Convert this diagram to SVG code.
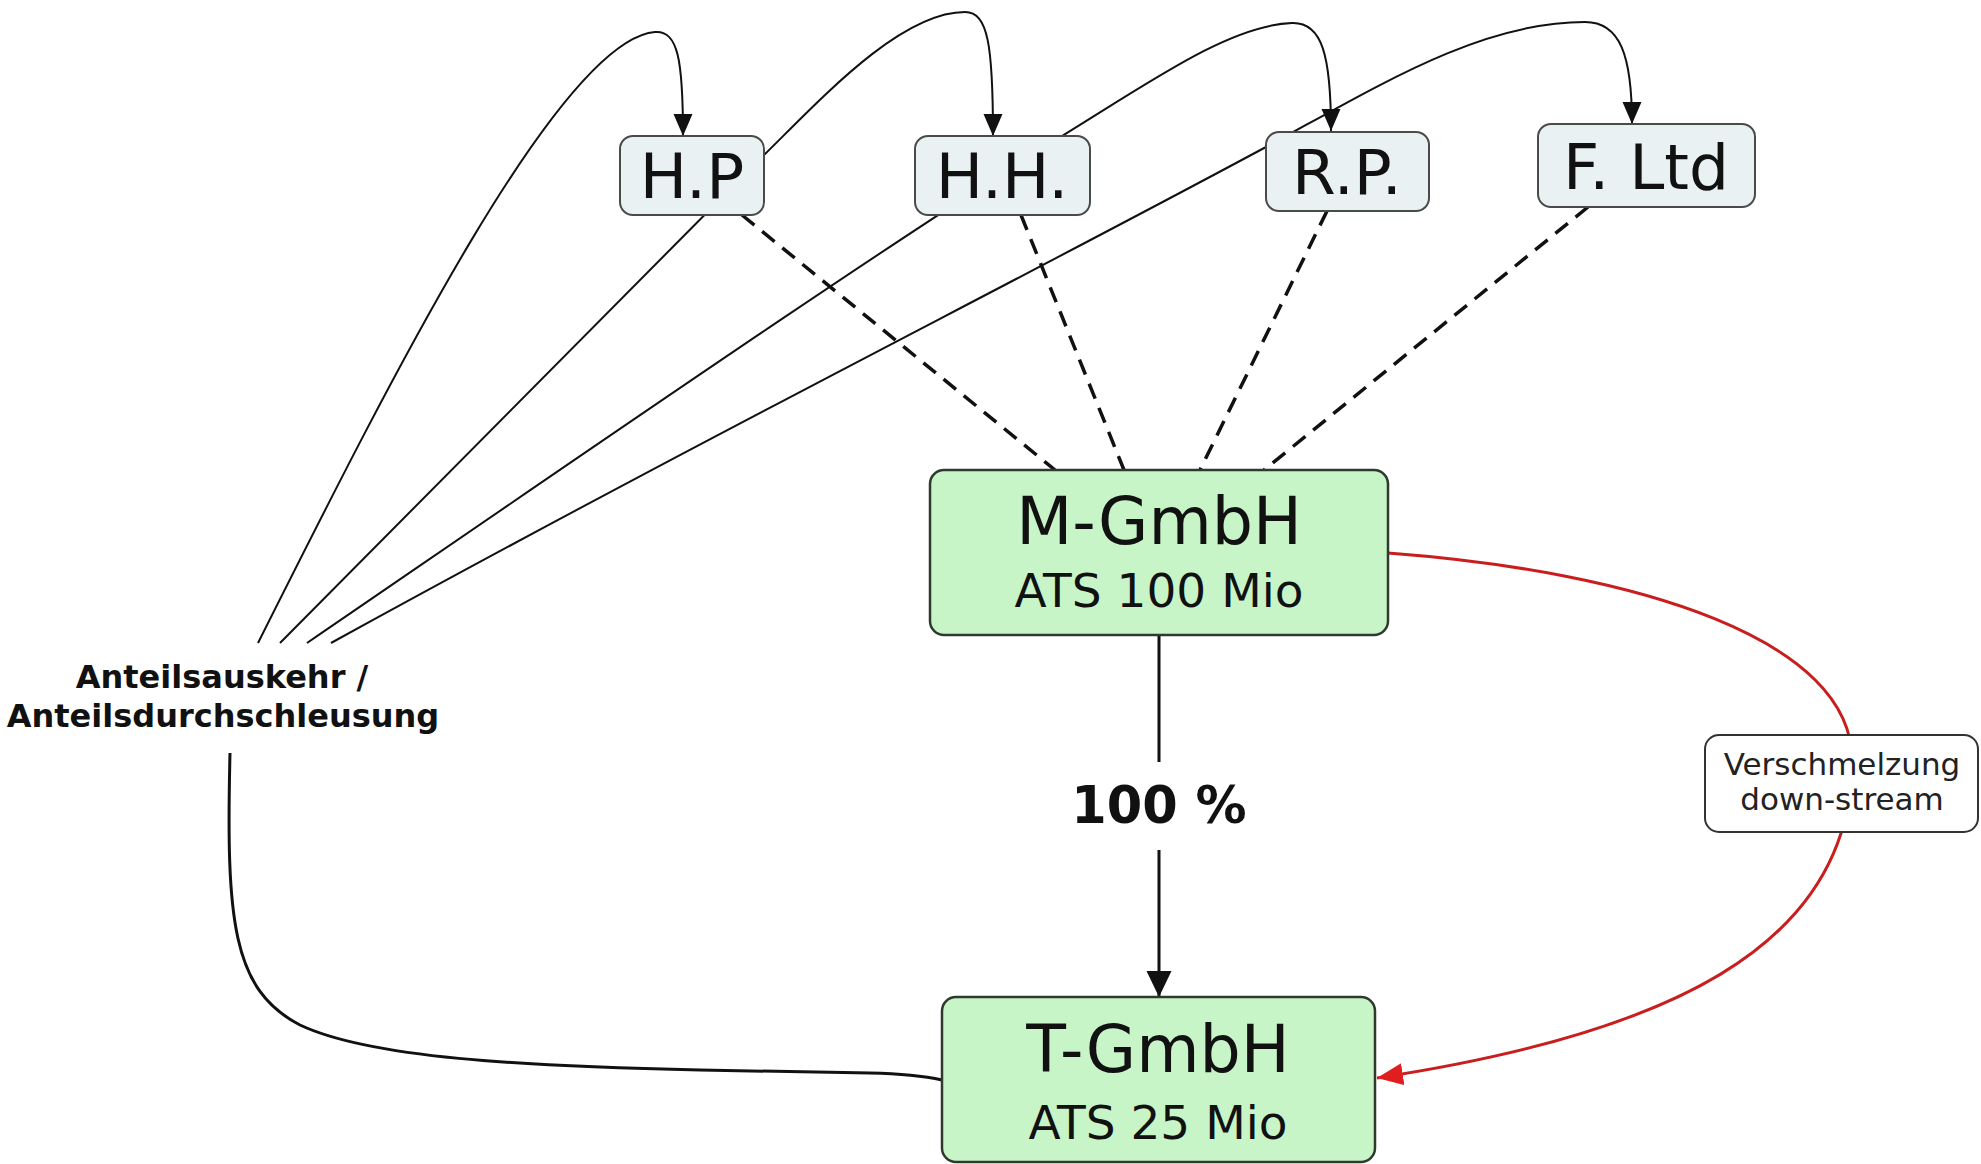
<svg xmlns="http://www.w3.org/2000/svg" width="1981" height="1164" viewBox="0 0 1981 1164">
<style>
  .bg { fill: #ffffff; }
  .thin { fill: none; stroke: #111; stroke-width: 2; }
  .thick { fill: none; stroke: #111; stroke-width: 3; }
  .dash { fill: none; stroke: #111; stroke-width: 3.5; stroke-dasharray: 16 10; }
  .red { fill: none; stroke: #c81e1e; stroke-width: 3; }
  .top { fill: #e9f1f3; stroke: #4a4a4a; stroke-width: 2; }
  .green { fill: #c8f5c8; stroke: #2e3a2e; stroke-width: 2.5; }
  .note { fill: #ffffff; stroke: #333; stroke-width: 2; }
  .t-top { font-family: "DejaVu Sans", Verdana, sans-serif; font-size: 63px; fill: #111; text-anchor: middle; }
  .t-big { font-family: "DejaVu Sans", Verdana, sans-serif; font-size: 65px; fill: #111; text-anchor: middle; }
  .t-sub { font-family: "DejaVu Sans", Verdana, sans-serif; font-size: 47px; fill: #111; text-anchor: middle; }
  .t-bold { font-family: "DejaVu Sans", Verdana, sans-serif; font-weight: bold; fill: #111; text-anchor: middle; }
  .t-note { font-family: "DejaVu Sans", Verdana, sans-serif; font-size: 31px; fill: #222; text-anchor: middle; }
</style>
<defs>
  <marker id="arr" markerUnits="userSpaceOnUse" markerWidth="24" markerHeight="20" refX="22" refY="9.5" orient="auto">
    <path d="M0,0 L22,9.5 L0,19 z" fill="#111"/>
  </marker>
  <marker id="arrBig" markerUnits="userSpaceOnUse" markerWidth="28" markerHeight="26" refX="26" refY="12.5" orient="auto">
    <path d="M0,0 L26,12.5 L0,25 z" fill="#111"/>
  </marker>
  <marker id="arrRed" markerUnits="userSpaceOnUse" markerWidth="28" markerHeight="24" refX="26" refY="11" orient="auto">
    <path d="M0,0 L26,11 L0,22 z" fill="#e01e1e"/>
  </marker>
</defs>
<rect class="bg" x="0" y="0" width="1981" height="1164"/>

<g id="connectors">
  <!-- Anteilsauskehr lines to shareholders -->
  <path class="thin" d="M258,643 C390,380 560,40 655,32 C678,30 683,60 683,136" marker-end="url(#arr)"/>
  <path class="thin" d="M280,643 L764,155 C820,100 900,12 965,12 C988,12 993,45 993,136" marker-end="url(#arr)"/>
  <path class="thin" d="M307,643 C560,470 900,235 1062,136 C1150,82 1230,25 1292,23 C1322,22 1331,55 1331,131" marker-end="url(#arr)"/>
  <path class="thin" d="M331,643 C700,440 1000,290 1266,147 C1380,85 1480,22 1585,22 C1620,22 1632,55 1632,124" marker-end="url(#arr)"/>
  <!-- dashed ownership lines -->
  <line class="dash" x1="742" y1="215" x2="1055" y2="470"/>
  <line class="dash" x1="1021" y1="215" x2="1124" y2="470"/>
  <line class="dash" x1="1327" y1="211" x2="1200" y2="470"/>
  <line class="dash" x1="1588" y1="207" x2="1264" y2="470"/>
  <!-- 100 % -->
  <path class="thick" d="M1159,635 V762 M1159,850 V997" marker-end="url(#arrBig)"/>
  <text class="t-bold" x="1159" y="823" font-size="51">100 %</text>
  <!-- label to T-GmbH -->
  <path class="thick" d="M230,753 C226,920 232,990 300,1025 C370,1058 520,1066 700,1070 L870,1073 Q915,1074 942,1080"/>
  <!-- down-stream merger -->
  <path class="red" d="M1388,553 C1640,572 1852,640 1852,760 C1852,950 1660,1035 1377,1078" marker-end="url(#arrRed)"/>
</g>

<g id="node-hp">
  <rect class="top" x="620" y="136" width="144" height="79" rx="13"/>
  <text class="t-top" x="692" y="198">H.P</text>
</g>
<g id="node-hh">
  <rect class="top" x="915" y="136" width="175" height="79" rx="13"/>
  <text class="t-top" x="1002" y="198">H.H.</text>
</g>
<g id="node-rp">
  <rect class="top" x="1266" y="132" width="163" height="79" rx="13"/>
  <text class="t-top" x="1347" y="194">R.P.</text>
</g>
<g id="node-fltd">
  <rect class="top" x="1538" y="124" width="217" height="83" rx="13"/>
  <text class="t-top" x="1646" y="189">F. Ltd</text>
</g>
<g id="node-mgmbh">
  <rect class="green" x="930" y="470" width="458" height="165" rx="14"/>
  <text class="t-big" x="1159" y="544">M-GmbH</text>
  <text class="t-sub" x="1159" y="607">ATS 100 Mio</text>
</g>
<g id="node-tgmbh">
  <rect class="green" x="942" y="997" width="433" height="165" rx="14"/>
  <text class="t-big" x="1158" y="1072">T-GmbH</text>
  <text class="t-sub" x="1158" y="1139">ATS 25 Mio</text>
</g>
<g id="node-anteil">
  <text class="t-bold" x="222" y="688" font-size="32">Anteilsauskehr /</text>
  <text class="t-bold" x="223" y="727" font-size="32">Anteilsdurchschleusung</text>
</g>
<g id="node-verschmelzung">
  <rect class="note" x="1705" y="735" width="273" height="97" rx="14"/>
  <text class="t-note" x="1842" y="775">Verschmelzung</text>
  <text class="t-note" x="1842" y="810">down-stream</text>
</g>
</svg>
